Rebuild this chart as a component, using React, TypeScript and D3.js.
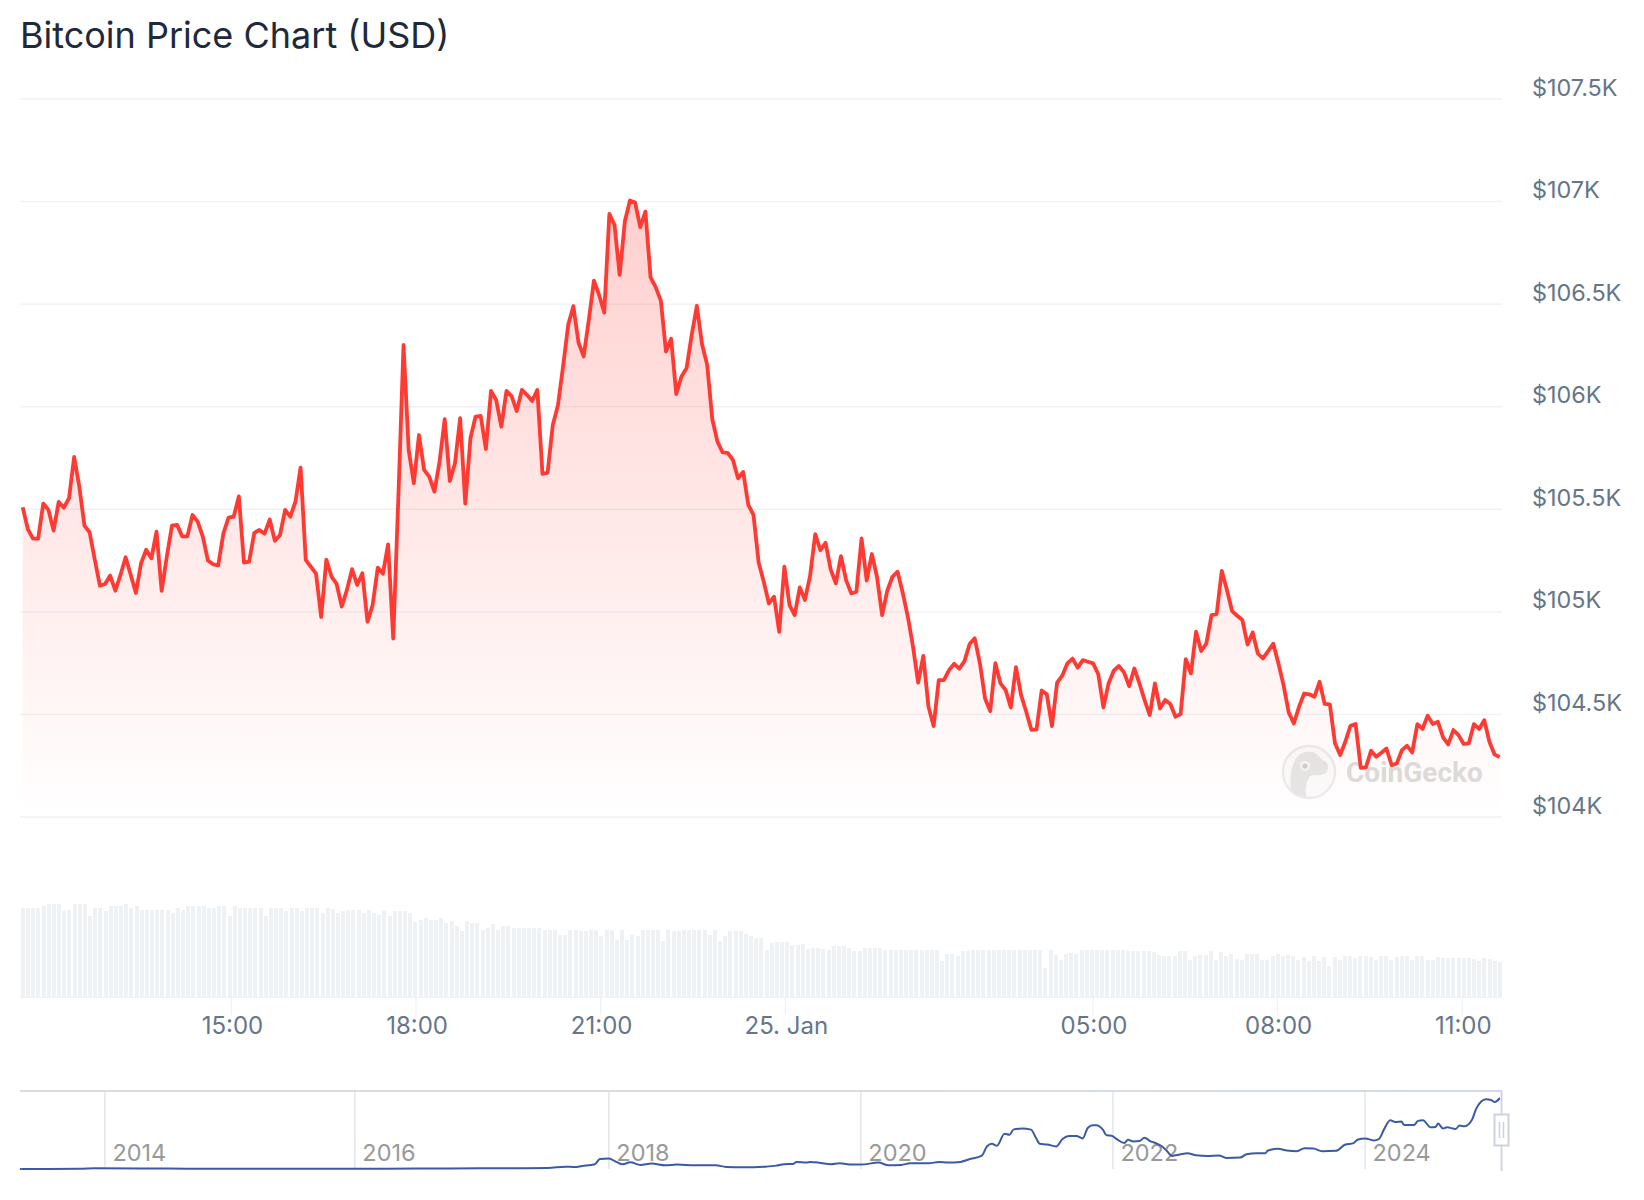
import { useEffect, useRef } from 'react';
import * as d3 from 'd3';

const WIDTH = 1644;
const HEIGHT = 1200;

// 24h of prices, one reading about every 5 minutes
const prices = [
  105510, 105403, 105357, 105357, 105528, 105497, 105396, 105536, 105508, 105554, 105755, 105610,
  105420, 105388, 105256, 105128, 105136, 105177, 105103, 105180, 105266, 105180, 105092, 105237,
  105303, 105261, 105391, 105102, 105269, 105420, 105424, 105368, 105368, 105472, 105440, 105367,
  105250, 105232, 105227, 105383, 105459, 105464, 105563, 105240, 105245, 105385, 105399, 105381,
  105450, 105346, 105375, 105497, 105464, 105537, 105703, 105253, 105220, 105186, 104975, 105255,
  105172, 105136, 105026, 105107, 105208, 105131, 105188, 104952, 105034, 105216, 105186, 105329,
  104870, 105562, 106301, 105789, 105627, 105862, 105692, 105659, 105586, 105732, 105939, 105638,
  105724, 105944, 105528, 105846, 105952, 105955, 105794, 106077, 106033, 105903, 106077, 106052,
  105979, 106082, 106057, 106028, 106082, 105672, 105679, 105911, 106006, 106196, 106399, 106490,
  106313, 106245, 106423, 106615, 106545, 106459, 106940, 106886, 106643, 106903, 107005, 106995,
  106875, 106951, 106631, 106583, 106517, 106269, 106331, 106062, 106147, 106188, 106350, 106492,
  106305, 106204, 105939, 105830, 105777, 105775, 105741, 105651, 105682, 105521, 105473, 105241,
  105147, 105041, 105074, 104903, 105220, 105033, 104984, 105119, 105058, 105175, 105379, 105301,
  105337, 105207, 105139, 105272, 105155, 105090, 105098, 105358, 105153, 105282, 105171, 104984,
  105103, 105171, 105196, 105093, 104976, 104830, 104655, 104785, 104538, 104443, 104667, 104667,
  104716, 104747, 104723, 104760, 104843, 104871, 104749, 104578, 104516, 104750, 104651, 104619,
  104534, 104731, 104594, 104513, 104425, 104427, 104617, 104598, 104443, 104655, 104689, 104749,
  104772, 104728, 104765, 104757, 104749, 104696, 104534, 104651, 104713, 104736, 104705, 104638,
  104724, 104651, 104570, 104497, 104651, 104529, 104570, 104551, 104489, 104502, 104770, 104700,
  104903, 104809, 104846, 104984, 104989, 105200, 105106, 105004, 104981, 104960, 104841, 104900,
  104797, 104773, 104809, 104845, 104749, 104643, 104510, 104456, 104537, 104602, 104598, 104586,
  104659, 104551, 104549, 104359, 104302, 104367, 104445, 104453, 104240, 104242, 104323, 104294,
  104313, 104334, 104253, 104261, 104326, 104347, 104315, 104453, 104429, 104494, 104453, 104464,
  104388, 104354, 104424, 104399, 104356, 104359, 104453, 104429, 104472, 104367, 104305, 104292,
];

// Volume bars, no scale shown in the chart so these are relative units
const volumes = [
  89, 89, 89, 89, 91, 93, 93, 93, 86, 87, 93, 93, 93, 81, 89, 89, 86, 91, 91, 91, 93, 89, 91, 87,
  87, 87, 87, 87, 87, 84, 89, 87, 91, 91, 91, 91, 89, 89, 91, 91, 81, 91, 89, 89, 89, 89, 89, 81,
  89, 89, 89, 86, 89, 89, 86, 89, 89, 89, 84, 89, 88, 84, 86, 87, 87, 87, 84, 87, 84, 82, 86, 81,
  86, 86, 86, 84, 75, 77, 79, 77, 77, 79, 74, 76, 71, 66, 76, 74, 74, 67, 69, 73, 67, 71, 71, 69,
  69, 69, 69, 69, 69, 67,
  67, 67, 62, 62, 67, 67, 66, 66, 67, 67, 61, 67, 67, 57, 67, 57, 62, 61, 67, 67, 67, 67, 56, 67,
  66, 66, 67, 67, 67, 67, 67, 62, 67, 56, 61, 66, 66, 66, 63, 61, 59, 59, 47, 54, 55, 55, 55, 52,
  52, 53, 48, 49, 49, 48, 47, 51, 51, 51, 49, 46, 46, 49, 49, 49, 49, 47, 47, 47, 47, 47, 47, 47,
  47, 47, 47, 47, 36, 43, 43, 41, 46, 46, 47, 47, 47, 47, 47, 47, 47, 47, 47, 47, 47, 47, 47, 47,
  29, 47, 42, 37, 43, 44, 43, 47, 47, 47,
  47, 47, 47, 47, 47, 47, 46, 46, 46, 46, 46, 45, 42, 41, 41, 41, 46, 46, 37, 41, 42, 42, 46, 37,
  45, 41, 43, 38, 37, 43, 43, 43, 37, 37, 41, 43, 41, 42, 41, 37, 40, 36, 41, 36, 40, 31, 40, 37,
  41, 41, 39, 41, 41, 40, 37, 41, 41, 37, 40, 41, 41, 37, 41, 41, 37, 37, 40, 39, 39, 39, 39, 39,
  39, 38, 36, 39, 38, 36, 35,
];

const yTicks = [104000, 104500, 105000, 105500, 106000, 106500, 107000, 107500];

const xTickDates = [
  Date.UTC(2025, 0, 24, 15),
  Date.UTC(2025, 0, 24, 18),
  Date.UTC(2025, 0, 24, 21),
  Date.UTC(2025, 0, 25, 0),
  Date.UTC(2025, 0, 25, 5),
  Date.UTC(2025, 0, 25, 8),
  Date.UTC(2025, 0, 25, 11),
];
const xTickLabels = ['15:00', '18:00', '21:00', '25. Jan', '05:00', '08:00', '11:00'];

// Navigator series, all-time price at irregular dates (decimal years)
const navYears = [
  2013.33, 2013.8, 2013.92, 2014.5, 2015.0, 2015.5, 2016.0, 2016.5, 2017.0, 2017.2, 2017.52, 2017.66,
  2017.73, 2017.79, 2017.89, 2017.93, 2018.0, 2018.06, 2018.11, 2018.17, 2018.25, 2018.34, 2018.45,
  2018.54, 2018.68, 2018.85, 2018.93, 2019.07, 2019.24, 2019.33, 2019.39, 2019.46, 2019.49, 2019.57,
  2019.6, 2019.68, 2019.76, 2019.83, 2019.93, 2020.0, 2020.14, 2020.22, 2020.32, 2020.39, 2020.54,
  2020.62, 2020.69, 2020.79, 2020.86, 2020.96, 2021.0, 2021.04, 2021.08, 2021.14, 2021.18, 2021.21,
  2021.28, 2021.35, 2021.39, 2021.42, 2021.48, 2021.55, 2021.6, 2021.65, 2021.71, 2021.76, 2021.8,
  2021.84, 2021.87, 2021.92, 2021.95, 2021.99, 2022.03, 2022.09, 2022.12, 2022.16, 2022.21, 2022.25,
  2022.3, 2022.34, 2022.39, 2022.42, 2022.47, 2022.53, 2022.59, 2022.66, 2022.75, 2022.84, 2022.9,
  2023.01, 2023.06, 2023.14, 2023.21, 2023.23, 2023.31, 2023.38, 2023.46, 2023.52, 2023.59, 2023.66,
  2023.77, 2023.84, 2023.91, 2023.94, 2024.0, 2024.07, 2024.11, 2024.15, 2024.2, 2024.24, 2024.29,
  2024.31, 2024.39, 2024.42, 2024.46, 2024.52, 2024.56, 2024.58, 2024.62, 2024.65, 2024.72, 2024.75,
  2024.79, 2024.85, 2024.88, 2024.92, 2024.96, 2025.0, 2025.03, 2025.07,
];
const navPrices = [
  120, 300, 1000, 600, 300, 250, 430, 650, 950, 1100, 1500, 3570, 3000, 4590, 7140, 15290, 15800, 10700,
  7140, 10190, 6120, 8150, 5610, 6630, 5610, 5610, 3060, 2550, 3570, 5100, 7140, 7650, 10700, 9680, 10700,
  9170, 7140, 8660, 6630, 6630, 9680, 5610, 6120, 8660, 8660, 10700, 9680, 10700, 14780, 20390, 34150,
  38230, 35170, 53520, 51990, 59630, 61160, 59630, 46890, 38230, 37210, 34150, 45360, 49950, 49950, 46380,
  62180, 66260, 66260, 59630, 50970, 50460, 45360, 39250, 44340, 41800, 42300, 47400, 41800, 39250, 34150,
  29050, 19880, 21920, 23960, 20900, 19880, 20390, 16820, 17330, 22430, 23960, 23960, 28030, 30580, 28030,
  27010, 31600, 31090, 27010, 27520, 36700, 39250, 44340, 46380, 43320, 45360, 59630, 73900, 71360, 71870,
  66770, 66770, 72890, 73900, 63200, 63710, 68810, 61160, 63200, 60650, 65750, 64730, 74930, 90210, 101940,
  105500, 104490, 101430, 107540,
];
const navTicks = [2014, 2016, 2018, 2020, 2022, 2024];

const FONT = 'Inter, "Noto Sans", sans-serif';
const SLATE = '#667588';

export default function App() {
  const svgRef = useRef<SVGSVGElement>(null);

  useEffect(() => {
    if (!svgRef.current) return;

    const svg = d3.select(svgRef.current);
    svg.selectAll('*').remove();

    const gridLeft = 20;
    const gridRight = 1502;

    // Scales
    const start = Date.UTC(2025, 0, 24, 11, 37);
    const step = (24 * 3600 * 1000) / (prices.length - 1);
    const x = d3
      .scaleLinear()
      .domain([start, start + 24 * 3600 * 1000])
      .range([22.7, 1499.7]);
    const y = d3.scaleLinear().domain([104000, 107500]).range([817, 99]);
    const yVolume = d3.scaleLinear().domain([0, 100]).range([997, 897]);
    const band = d3
      .scaleBand<number>()
      .domain(d3.range(volumes.length))
      .range([21, 1502])
      .paddingInner(0.2);
    const xNav = d3.scaleLinear().domain([2014, 2016, 2018, 2024]).range([104.9, 354.8, 608.8, 1365]);
    const yNav = d3.scaleLinear().domain([0, 107540]).range([1169, 1098]);

    const defs = svg.append('defs');
    const areaGradient = defs
      .append('linearGradient')
      .attr('id', 'areaFill')
      .attr('gradientUnits', 'userSpaceOnUse')
      .attr('x1', 0)
      .attr('x2', 0)
      .attr('y1', y(107000))
      .attr('y2', y(104000));
    areaGradient.append('stop').attr('offset', 0).attr('stop-color', '#ff3a33').attr('stop-opacity', 0.24);
    areaGradient.append('stop').attr('offset', 1).attr('stop-color', '#ff3a33').attr('stop-opacity', 0);

    const navOutline = defs
      .append('linearGradient')
      .attr('id', 'navOutline')
      .attr('gradientUnits', 'userSpaceOnUse')
      .attr('x1', gridLeft)
      .attr('x2', gridRight)
      .attr('y1', 0)
      .attr('y2', 0);
    navOutline.append('stop').attr('offset', 0.6).attr('stop-color', '#cbd2d8');
    navOutline.append('stop').attr('offset', 1).attr('stop-color', '#c5cce6');

    // Title
    svg
      .append('text')
      .attr('x', 20)
      .attr('y', 48)
      .attr('font-family', FONT)
      .attr('font-size', 36)
      .attr('fill', '#1e293b')
      .text('Bitcoin Price Chart (USD)');

    // Grid
    svg
      .append('g')
      .selectAll('line')
      .data(yTicks)
      .join('line')
      .attr('x1', gridLeft)
      .attr('x2', gridRight)
      .attr('y1', (d) => y(d))
      .attr('y2', (d) => y(d))
      .attr('stroke', '#eff1f4')
      .attr('stroke-width', 1.4);

    // Y axis labels
    const yAxis = svg
      .append('g')
      .attr('transform', 'translate(1532,0)')
      .call(
        d3
          .axisRight(y)
          .tickValues(yTicks)
          .tickSize(0)
          .tickPadding(0)
          .tickFormat((d) => `$${(d as number) / 1000}K`)
      );
    yAxis.select('.domain').remove();
    yAxis
      .selectAll('text')
      .attr('dy', -4)
      .attr('font-family', FONT)
      .attr('font-size', 23.4)
      .attr('fill', SLATE);

    // Watermark sits under the price line
    const mark = svg.append('g').attr('transform', 'translate(1309,772)');
    mark.append('circle').attr('r', 26).attr('fill', '#fbfbfb').attr('stroke', '#ececec').attr('stroke-width', 2.5);
    mark
      .append('path')
      .attr('d', 'M-18,18 C-20,0 -16,-18 -3,-20 C8,-22 10,-14 14,-12 C22,-9 20,2 12,3 C6,4 2,2 0,6 C-4,12 -4,20 -2,25 C-8,25 -14,22 -18,18 Z')
      .attr('fill', '#e6e6e6');
    mark.append('circle').attr('cx', -4).attr('cy', -6).attr('r', 5).attr('fill', '#f7f7f7');
    mark.append('circle').attr('cx', -4).attr('cy', -6).attr('r', 2.6).attr('fill', '#cfcfcf');
    svg
      .append('text')
      .attr('x', 1346)
      .attr('y', 782)
      .attr('font-family', 'Roboto, sans-serif')
      .attr('font-weight', 700)
      .attr('font-size', 28)
      .attr('fill', '#dcdcdc')
      .text('CoinGecko');

    // Price area and line
    const area = d3
      .area<number>()
      .x((_, i) => x(start + i * step))
      .y0(y(104000))
      .y1((d) => y(d));
    const line = d3
      .line<number>()
      .x((_, i) => x(start + i * step))
      .y((d) => y(d));
    svg.append('path').datum(prices).attr('d', area).attr('fill', 'url(#areaFill)');
    svg
      .append('path')
      .datum(prices)
      .attr('d', line)
      .attr('fill', 'none')
      .attr('stroke', '#ff3a33')
      .attr('stroke-width', 3.8)
      .attr('stroke-linejoin', 'round');

    // Volume bars
    svg
      .append('g')
      .selectAll('rect')
      .data(volumes)
      .join('rect')
      .attr('x', (_, i) => Math.round(band(i) ?? 0))
      .attr('width', Math.round(band.bandwidth()))
      .attr('y', (d) => yVolume(d))
      .attr('height', (d) => yVolume(0) - yVolume(d))
      .attr('fill', '#eef2f5');

    // X axis
    const xAxis = svg
      .append('g')
      .attr('transform', `translate(0,${yVolume(0)})`)
      .call(
        d3
          .axisBottom(x)
          .tickValues(xTickDates)
          .tickSize(18)
          .tickPadding(2)
          .tickFormat((_, i) => xTickLabels[i])
      );
    xAxis.select('.domain').attr('stroke', '#eef2f5').attr('d', `M${gridLeft},0.5H${gridRight}`);
    xAxis.selectAll('.tick line').attr('stroke', '#eef2f5').attr('stroke-width', 1.2);
    xAxis
      .selectAll('.tick text')
      .attr('dx', 1)
      .attr('font-family', FONT)
      .attr('font-size', 24)
      .attr('fill', SLATE);

    // Navigator
    const nav = svg.append('g');
    nav
      .selectAll('line.year')
      .data(navTicks)
      .join('line')
      .attr('class', 'year')
      .attr('x1', (d) => xNav(d))
      .attr('x2', (d) => xNav(d))
      .attr('y1', 1091)
      .attr('y2', 1169)
      .attr('stroke', '#e2e4e7')
      .attr('stroke-width', 1.4);
    nav
      .selectAll('text')
      .data(navTicks)
      .join('text')
      .attr('x', (d) => xNav(d) + 7.5)
      .attr('y', 1161)
      .attr('font-family', FONT)
      .attr('font-size', 23.5)
      .attr('fill', '#999999')
      .text((d) => d);

    const navLine = d3
      .line<number>()
      .x((_, i) => xNav(navYears[i]))
      .y((d) => yNav(d))
      .curve(d3.curveMonotoneX);
    nav
      .append('path')
      .datum(navPrices)
      .attr('d', navLine)
      .attr('fill', 'none')
      .attr('stroke', '#3a5ba4')
      .attr('stroke-width', 2);
    // Baseline run from the left edge up to the first reading
    nav
      .append('line')
      .attr('x1', gridLeft)
      .attr('x2', xNav(navYears[0]))
      .attr('y1', yNav(navPrices[0]))
      .attr('y2', yNav(navPrices[0]))
      .attr('stroke', '#3a5ba4')
      .attr('stroke-width', 2);

    nav
      .append('line')
      .attr('x1', gridLeft)
      .attr('x2', gridRight)
      .attr('y1', 1091)
      .attr('y2', 1091.01)
      .attr('stroke', 'url(#navOutline)')
      .attr('stroke-width', 1.6);
    nav
      .append('line')
      .attr('x1', gridRight - 0.5)
      .attr('x2', gridRight - 0.5)
      .attr('y1', 1091)
      .attr('y2', 1171)
      .attr('stroke', '#ccd2e2')
      .attr('stroke-width', 1.8);

    // Range handle
    const handle = nav.append('g').attr('transform', `translate(${gridRight - 0.5},1130)`);
    handle
      .append('rect')
      .attr('x', -7)
      .attr('y', -15.5)
      .attr('width', 14)
      .attr('height', 31)
      .attr('fill', '#ffffff')
      .attr('stroke', '#ccd2e2')
      .attr('stroke-width', 2);
    handle
      .selectAll('line')
      .data([-2, 2])
      .join('line')
      .attr('x1', (d) => d)
      .attr('x2', (d) => d)
      .attr('y1', -8)
      .attr('y2', 8)
      .attr('stroke', '#ccd2e2')
      .attr('stroke-width', 1.6);
  }, []);

  return (
    <svg
      ref={svgRef}
      width={WIDTH}
      height={HEIGHT}
      style={{ position: 'absolute', left: 0, top: 0, background: '#fff' }}
    />
  );
}
